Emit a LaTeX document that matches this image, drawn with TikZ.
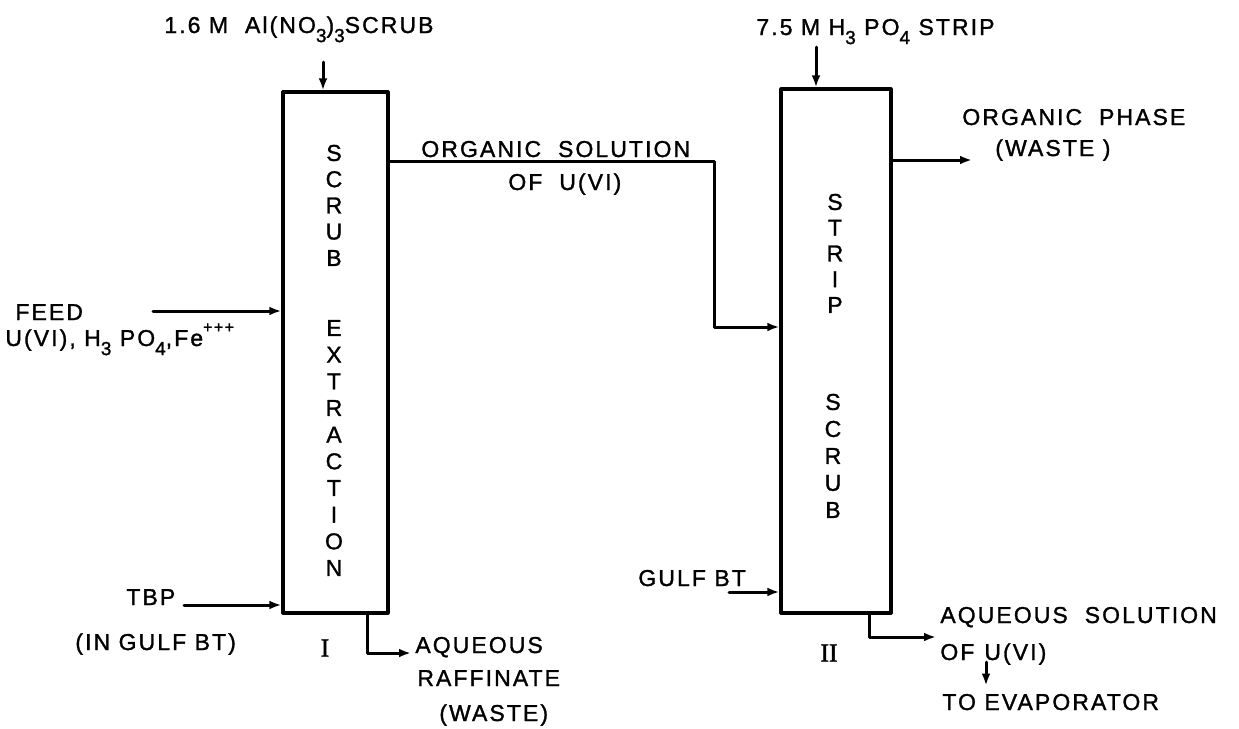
\documentclass[tikz,border=0pt]{standalone}
\usepackage{fontspec}
\setmainfont{Liberation Sans}[LetterSpace=9,FakeBold=1.3]
\newfontfamily\romanfont{Liberation Serif}[FakeBold=1.5]
\usetikzlibrary{arrows.meta}
\newcommand\lsub[1]{\raisebox{-0.75ex}{\fontsize{9.5}{9.5}\selectfont #1}}
\newcommand\hsup[1]{\raisebox{1.1ex}{\fontsize{8}{8}\selectfont #1}}
\begin{document}
\begin{tikzpicture}[x=0.5pt,y=-0.5pt,line cap=round,line join=round,>={Latex[length=6pt,width=4.4pt]},
  font=\fontsize{11.5}{13}\selectfont,
  colbox/.style={draw,line width=1.6pt,inner sep=0pt},
  flow/.style={->,line width=1.5pt},
  lbl/.style={inner sep=0pt,anchor=base west},
  letter/.style={inner sep=0pt},
  numeral/.style={inner sep=0pt,font={\romanfont\fontsize{13}{13}\selectfont}}]
\useasboundingbox (0,0) rectangle (1239,729);
%% Cot I
\node[colbox,minimum width=52.5pt,minimum height=260.5pt] (colI) at (335.5,352.5) {};
\foreach \c [count=\i from 0] in {S,C,R,U,B}
  \node[letter] (scI-\i) at (334,153+26.25*\i) {\c};
\foreach \c [count=\i from 0] in {E,X,T,R,A,C,T,I,O,N}
  \node[letter] (exI-\i) at (334,328+26.67*\i) {\c};
\node[numeral] (numI) at (325,648) {I};
%% Cot II
\node[colbox,minimum width=55pt,minimum height=262pt] (colII) at (836,351) {};
\foreach \c [count=\i from 0] in {S,T,R,I,P}
  \node[letter] (stII-\i) at (835,202+25.75*\i) {\c};
\foreach \c [count=\i from 0] in {S,C,R,U,B}
  \node[letter] (scII-\i) at (833,402+27*\i) {\c};
\node[numeral] (numII) at (829,653) {II};
%% Nhan
\node[lbl] (scrubfeed) at (164,33) {1.6 M~~Al(NO\lsub{3})\lsub{3}SCRUB};
\node[lbl] (stripfeed) at (756,35) {7.5 M H\lsub{3} PO\lsub{4} STRIP};
\node[lbl] (orgsol) at (421,157) {ORGANIC~~SOLUTION};
\node[lbl] (orgsolb) at (508,190) {OF~~U(VI)};
\node[lbl] (orgphase) at (962,125) {ORGANIC~~PHASE};
\node[lbl] (orgwaste) at (995,156) {(WASTE )};
\node[lbl] (feed) at (15,320) {FEED};
\node[lbl] (feedb) at (5,346) {U(VI), H\lsub{3} PO\lsub{4},Fe\hsup{+++}};
\node[lbl] (tbp) at (126,605) {TBP};
\node[lbl] (tbpb) at (75,650) {(IN GULF BT)};
\node[lbl] (raff) at (415,653) {AQUEOUS};
\node[lbl] (raffb) at (417,686) {RAFFINATE};
\node[lbl] (raffc) at (439,721) {(WASTE)};
\node[lbl] (gulf) at (638,586) {GULF BT};
\node[lbl] (aqsol) at (940,623) {AQUEOUS~~SOLUTION};
\node[lbl] (aqsolb) at (940,660) {OF\hspace{5pt}U(VI)};
\node[lbl] (evap) at (942,710) {TO~EVAPORATOR};
%% Dong chay
\coordinate (scrubtail) at (323,62);
\coordinate (striptail) at (816,47);
\coordinate (feedtail) at (153,311);
\coordinate (tbptail) at (184,605);
\coordinate (gulftail) at (729,592);
\coordinate (bend1) at (714,161);
\coordinate (bend2) at (714,327);
\coordinate (phaseend) at (972,160);
\coordinate (raffdrop) at (367,653);
\coordinate (raffend) at (411,653);
\coordinate (aqdrop) at (869,637);
\coordinate (aqend) at (936,637);
\coordinate (evaptail) at (986,662);
\draw[flow] (scrubtail) -- (scrubtail |- colI.north);
\draw[flow] (striptail) -- (striptail |- colII.north);
\draw[flow] (feedtail) -- (feedtail -| colI.west);
\draw[flow] (tbptail) -- (tbptail -| colI.west);
\draw[flow] (gulftail) -- (gulftail -| colII.west);
\draw[flow] (bend1 -| colI.east) -- (bend1) -- (bend2) -- (bend2 -| colII.west);
\draw[flow] (phaseend -| colII.east) -- (phaseend);
\draw[flow] (raffdrop |- colI.south) -- (raffdrop) -- (raffend);
\draw[flow] (aqdrop |- colII.south) -- (aqdrop) -- (aqend);
\draw[flow] (evaptail) -- ([yshift=4pt]evaptail |- evap.north);
\end{tikzpicture}
\end{document}
